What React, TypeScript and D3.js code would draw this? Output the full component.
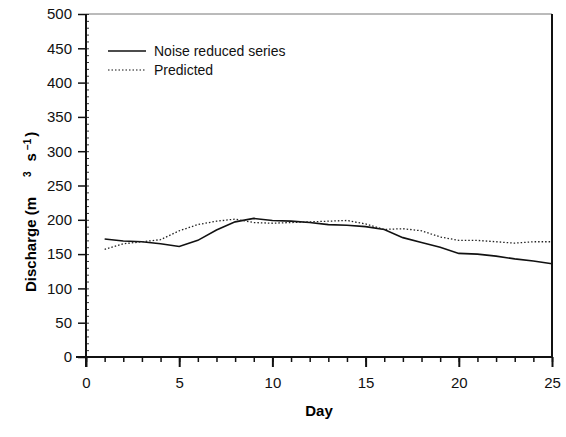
import React, { useRef, useEffect } from "react";
import * as d3 from "d3";

// Day numbers and discharge values
const days = [1, 2, 3, 4, 5, 6, 7, 8, 9, 10, 11, 12, 13, 14, 15, 16, 17, 18, 19, 20, 21, 22, 23, 24, 25];
const noiseReduced = [172, 169, 168, 165, 161, 170, 185, 197, 202, 199, 198, 196, 193, 192, 190, 186, 174, 167, 160, 151, 150, 147, 143, 140, 136];
const predicted = [157, 165, 168, 171, 184, 193, 198, 201, 196, 195, 196, 197, 198, 199, 194, 186, 187, 184, 175, 170, 170, 168, 166, 168, 168];

const xTicks = [0, 5, 10, 15, 20, 25];
const yTicks = [0, 50, 100, 150, 200, 250, 300, 350, 400, 450, 500];

const App = () => {
  const svgRef = useRef(null);

  useEffect(() => {
    const svg = d3.select(svgRef.current);
    svg.selectAll("*").remove();

    const margin = { top: 14, right: 14, bottom: 80, left: 86 };
    const width = 566 - margin.left - margin.right;
    const height = 437 - margin.top - margin.bottom;
    const font = "Liberation Sans, Arial, sans-serif";

    const g = svg
      .append("g")
      .attr("transform", "translate(" + margin.left + "," + margin.top + ")");

    const x = d3.scaleLinear().domain([0, 25]).range([0, width]);
    const y = d3.scaleLinear().domain([0, 500]).range([height, 0]);

    // frame: top thin grey, right black
    g.append("line")
      .attr("x1", 0).attr("x2", width).attr("y1", 0).attr("y2", 0)
      .attr("stroke", "#777").attr("stroke-width", 1);
    g.append("line")
      .attr("x1", width).attr("x2", width).attr("y1", 0).attr("y2", height)
      .attr("stroke", "#111").attr("stroke-width", 2);

    // x minor ticks
    g.append("g")
      .attr("transform", "translate(0," + height + ")")
      .call(d3.axisBottom(x).tickValues(d3.range(0, 26)).tickSize(5).tickFormat(() => ""))
      .call((a) => a.select(".domain").remove())
      .selectAll("line").attr("stroke", "#111").attr("stroke-width", 1.5);

    // x major ticks
    const xAxis = g
      .append("g")
      .attr("transform", "translate(0," + height + ")")
      .call(d3.axisBottom(x).tickValues(xTicks).tickSize(10).tickPadding(10));
    xAxis.select(".domain").remove();
    xAxis.selectAll("line").attr("stroke", "#111").attr("stroke-width", 2);
    xAxis.selectAll("text").style("font-family", font).style("font-size", "15px").attr("fill", "#111");

    // y minor ticks, inward
    g.append("g")
      .call(d3.axisLeft(y).tickValues(d3.range(0, 501, 10)).tickSize(-3).tickFormat(() => ""))
      .call((a) => a.select(".domain").remove())
      .selectAll("line").attr("stroke", "#333").attr("stroke-width", 1);

    // y major ticks
    const yAxis = g
      .append("g")
      .call(d3.axisLeft(y).tickValues(yTicks).tickSize(8).tickPadding(6));
    yAxis.select(".domain").remove();
    yAxis.selectAll("line").attr("stroke", "#111").attr("stroke-width", 1.5);
    yAxis.selectAll("text").style("font-family", font).style("font-size", "15px").attr("fill", "#111");

    // axis lines
    g.append("line")
      .attr("x1", -10).attr("x2", width).attr("y1", height).attr("y2", height)
      .attr("stroke", "#111").attr("stroke-width", 2);
    g.append("line")
      .attr("x1", 0).attr("x2", 0).attr("y1", 0).attr("y2", height + 10)
      .attr("stroke", "#111").attr("stroke-width", 2);

    const line = d3
      .line()
      .x((d) => x(d[0]))
      .y((d) => y(d[1]));

    g.append("path")
      .datum(days.map((d, i) => [d, noiseReduced[i]]))
      .attr("d", line)
      .attr("fill", "none")
      .attr("stroke", "#111")
      .attr("stroke-width", 1.6);

    g.append("path")
      .datum(days.map((d, i) => [d, predicted[i]]))
      .attr("d", line)
      .attr("fill", "none")
      .attr("stroke", "#222")
      .attr("stroke-width", 1.3)
      .attr("stroke-dasharray", "1.5,2");

    // legend
    const legend = [
      { label: "Noise reduced series", dash: null, yy: 37 },
      { label: "Predicted", dash: "1.5,2", yy: 56 },
    ];
    legend.forEach((l) => {
      g.append("line")
        .attr("x1", 22).attr("x2", 60).attr("y1", l.yy).attr("y2", l.yy)
        .attr("stroke", "#111")
        .attr("stroke-width", l.dash ? 1.2 : 1.4)
        .attr("stroke-dasharray", l.dash);
      g.append("text")
        .attr("x", 68).attr("y", l.yy).attr("dy", "0.35em")
        .style("font-family", font).style("font-size", "14px").attr("fill", "#111")
        .text(l.label);
    });

    // axis titles
    svg.append("text")
      .attr("x", margin.left + width / 2)
      .attr("y", 416)
      .attr("text-anchor", "middle")
      .style("font-family", font).style("font-size", "15px").style("font-weight", "bold")
      .text("Day");

    // y title, spaced like the original (m  3  s-1)
    const yt = svg.append("text")
      .attr("transform", "translate(36,292) rotate(-90)")
      .attr("text-anchor", "start")
      .style("font-family", font).style("font-size", "15px").style("font-weight", "bold");
    yt.append("tspan").text("Discharge (m");
    yt.append("tspan").attr("dx", 20).attr("baseline-shift", "super").style("font-size", "10px").text("3");
    yt.append("tspan").attr("dx", 10).text("s");
    yt.append("tspan").attr("dx", 3).attr("baseline-shift", "super").style("font-size", "10px").text("\u22121");
    yt.append("tspan").attr("dx", 2).text(")");
  }, []);

  return (
    <svg
      ref={svgRef}
      width={566}
      height={437}
      style={{ position: "absolute", left: 0, top: 0, background: "#fff" }}
    ></svg>
  );
};

export default App;
